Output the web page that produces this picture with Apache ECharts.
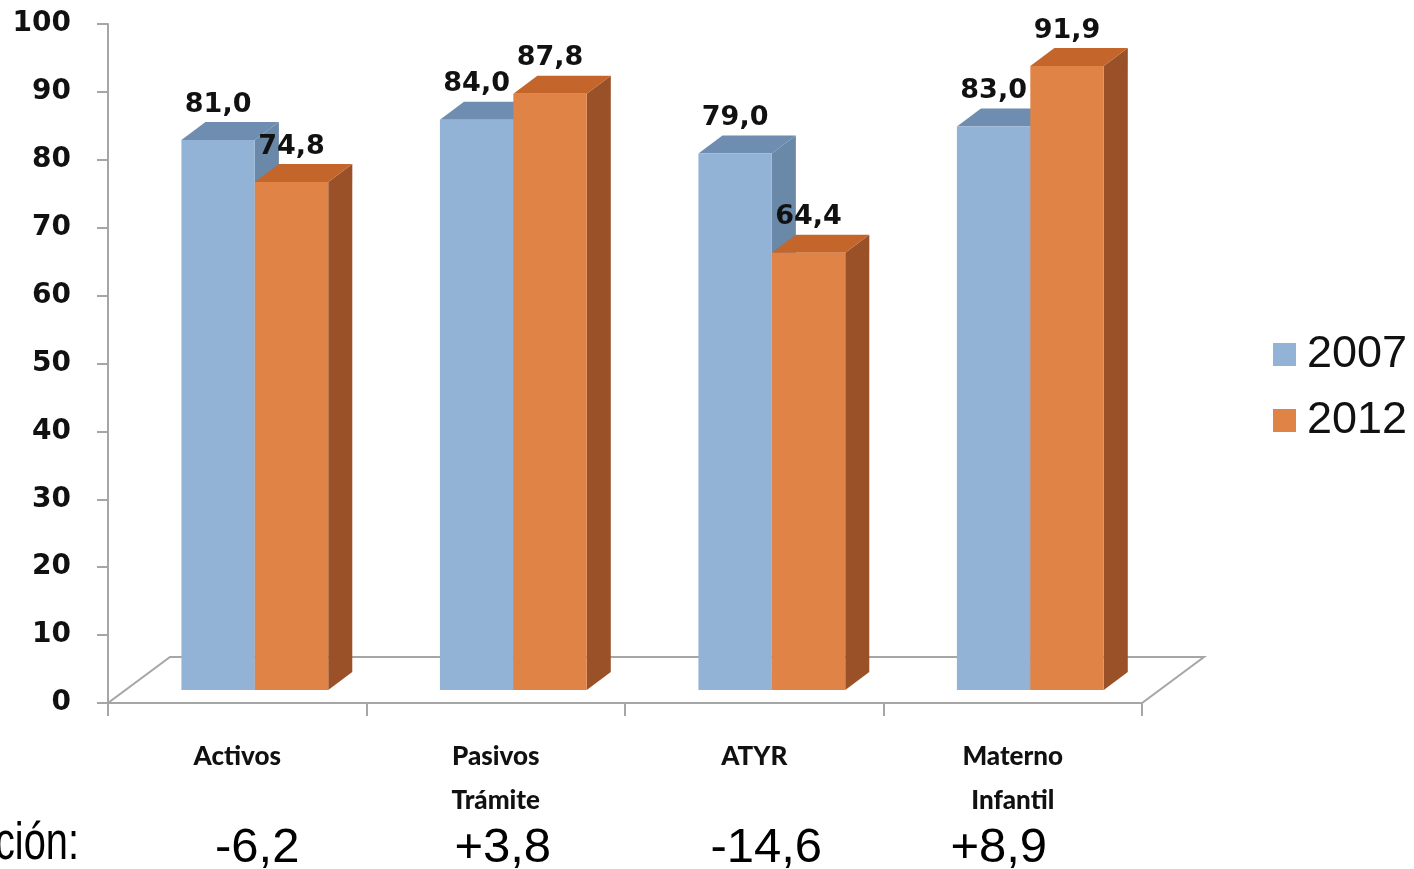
<!DOCTYPE html>
<html>
<head>
<meta charset="utf-8">
<script src="https://cdn.jsdelivr.net/npm/echarts@6/dist/echarts.min.js"></script>
<style>
  html, body { margin: 0; padding: 0; background: #fff; }
  #chart { width: 1414px; height: 869px; }
</style>
</head>
<body>
<div id="chart"></div>
<script>
const categories = ['Activos', 'Pasivos\nTrámite', 'ATYR', 'Materno\nInfantil'];
const values2007 = [81.0, 84.0, 79.0, 83.0];
const values2012 = [74.8, 87.8, 64.4, 91.9];
const variacion = ['-6,2', '+3,8', '-14,6', '+8,9'];
const yTicks = [0, 10, 20, 30, 40, 50, 60, 70, 80, 90, 100];

const palette = {
    '2007': { front: '#93b3d6', top: '#6f8db0', side: '#6a88a8' },
    '2012': { front: '#e08346', top: '#c4652c', side: '#9a5128' }
};

// floor depth and how far the bars sit back on it
const DEPTH_X = 62, DEPTH_Y = 46;
const SINK_Y = 13;
// the variation figures are not quite centred under their category
const varShift = [20, 7, 12, -14];

function fmt(v) {
    return v.toFixed(1).replace('.', ',');
}

function makeBarRenderer(name, left) {
    const col = palette[name];
    return function (params, api) {
        const cat = api.value(0);
        const val = api.value(1);
        const top = api.coord([cat, val]);
        const base = api.coord([cat, 0]);
        const band = api.size([1, 0])[0];
        const w = band * 0.284;
        const sx = band * 0.068;
        const dx = band * 0.093;
        const dy = 18;
        const x0 = top[0] + sx - (left ? w : 0);
        const yT = top[1] - SINK_Y;
        const yB = base[1] - SINK_Y;
        return {
            type: 'group',
            children: [
                {
                    type: 'polygon',
                    shape: { points: [[x0 + w, yT], [x0 + w + dx, yT - dy], [x0 + w + dx, yB - dy], [x0 + w, yB]] },
                    style: { fill: col.side }
                },
                {
                    type: 'polygon',
                    shape: { points: [[x0, yT], [x0 + dx, yT - dy], [x0 + w + dx, yT - dy], [x0 + w, yT]] },
                    style: { fill: col.top }
                },
                {
                    type: 'rect',
                    shape: { x: x0, y: yT, width: w, height: yB - yT },
                    style: { fill: col.front }
                },
                {
                    type: 'text',
                    z2: 10,
                    style: {
                        x: x0 + w / 2,
                        y: yT - dy - 4,
                        text: fmt(val),
                        align: 'center',
                        verticalAlign: 'bottom',
                        fill: '#111',
                        font: 'bold 27px "DejaVu Sans"'
                    }
                }
            ]
        };
    };
}

function renderFloor(params, api) {
    const cs = params.coordSys;
    const x = cs.x, y = cs.y + cs.height, w = cs.width;
    return {
        type: 'polygon',
        shape: { points: [[x, y], [x + w, y], [x + w + DEPTH_X, y - DEPTH_Y], [x + DEPTH_X, y - DEPTH_Y]] },
        style: { fill: 'none', stroke: '#a6a6a6', lineWidth: 2 }
    };
}

const varRich = {};
varShift.forEach((s, i) => {
    varRich['v' + i] = {
        fontFamily: '"Liberation Sans"',
        fontSize: 49,
        lineHeight: 50,
        color: '#000',
        padding: s >= 0 ? [0, 0, 0, 2 * s] : [0, -2 * s, 0, 0]
    };
});

const chart = echarts.init(document.getElementById('chart'));

const option = {
    animation: false,
    backgroundColor: '#fff',
    grid: { left: 108, top: 24, width: 1034, height: 679, outerBoundsMode: 'none', containLabel: false },
    legend: {
        data: ['2007', '2012'],
        orient: 'vertical',
        left: 1268,
        top: 327,
        icon: 'rect',
        itemWidth: 23,
        itemHeight: 23,
        itemGap: 21,
        textStyle: { fontFamily: '"Liberation Sans"', fontSize: 45, color: '#111', padding: [0, 0, 0, 6] }
    },
    xAxis: [
        {
            type: 'category',
            data: categories,
            axisLine: { show: true, lineStyle: { color: '#a6a6a6', width: 2 } },
            axisTick: { show: true, interval: 0, length: 13, lineStyle: { color: '#a6a6a6', width: 2 } },
            axisLabel: {
                margin: 32,
                color: '#111',
                fontFamily: 'Lato',
                fontWeight: 900,
                fontSize: 26,
                lineHeight: 44
            }
        },
        {
            type: 'category',
            position: 'bottom',
            data: variacion,
            axisLine: { show: false },
            axisTick: { show: false },
            axisLabel: {
                margin: 120,
                formatter: (value, idx) => '{v' + idx + '|' + value + '}',
                rich: varRich
            }
        }
    ],
    yAxis: {
        type: 'value',
        min: yTicks[0],
        max: yTicks[yTicks.length - 1],
        interval: 10,
        axisLine: { show: true, lineStyle: { color: '#a6a6a6', width: 2 } },
        axisTick: { show: true, length: 11, lineStyle: { color: '#a6a6a6', width: 2 } },
        splitLine: { show: false },
        axisLabel: {
            margin: 37,
            color: '#111',
            fontFamily: '"DejaVu Sans"',
            fontWeight: 'bold',
            fontSize: 28
        }
    },
    graphic: [
        {
            type: 'text',
            x: 79,
            y: 845,
            scaleX: 0.78,
            style: {
                x: 0,
                y: 0,
                text: 'Variación:',
                align: 'right',
                verticalAlign: 'middle',
                fill: '#000',
                font: '51px "Liberation Sans"'
            }
        }
    ],
    series: [
        {
            name: 'floor',
            type: 'custom',
            z: 1,
            silent: true,
            renderItem: renderFloor,
            data: [[0]]
        },
        {
            name: '2007',
            type: 'custom',
            z: 2,
            itemStyle: { color: palette['2007'].front },
            renderItem: makeBarRenderer('2007', true),
            data: values2007.map((v, i) => [i, v])
        },
        {
            name: '2012',
            type: 'custom',
            z: 3,
            itemStyle: { color: palette['2012'].front },
            renderItem: makeBarRenderer('2012', false),
            data: values2012.map((v, i) => [i, v])
        }
    ]
};

chart.setOption(option);
</script>
</body>
</html>
